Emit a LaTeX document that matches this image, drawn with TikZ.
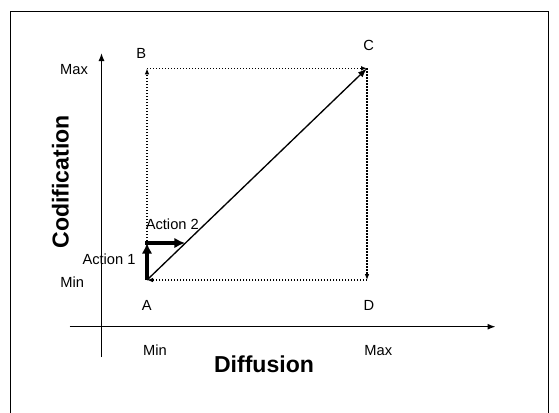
\documentclass[tikz,border=0pt]{standalone}
\usepackage{fontspec}
\setmainfont{Liberation Sans}
\usetikzlibrary{arrows.meta}
\begin{document}
\begin{tikzpicture}[x=0.75pt,y=-0.75pt,
  lbl/.style={font=\fontsize{11}{13}\selectfont, inner sep=0pt},
  big/.style={font=\fontsize{17.3}{20}\selectfont\bfseries, inner sep=0pt},
  axis/.style={line width=0.9pt,-{Latex[length=6pt,width=4.5pt]}},
  dots/.style={line width=0.9pt, dash pattern=on 1pt off 1.25pt, -{Latex[length=4.5pt,width=3.5pt]}},
  diag/.style={line width=1pt,-{Latex[length=7pt,width=5pt]}},
  act/.style={line width=2.8pt,-{Latex[length=8pt,width=8pt]}}]
\useasboundingbox (0,0) rectangle (559,412);
\draw[line width=0.9pt] (10.5,414) -- (10.5,11.7) -- (548.5,11.7) -- (548.5,414);
% points
\coordinate (A) at (147,280);
\coordinate (B) at (147,68.3);
\coordinate (C) at (367,68.3);
\coordinate (D) at (367,280);
\coordinate (A1) at (147,243);
\coordinate (A2) at (185,243);
\coordinate (yb) at (101.5,357);
\coordinate (yt) at (101.5,53);
\coordinate (xl) at (69.5,326.7);
\coordinate (xr) at (495.5,326.7);
% axes
\draw[axis] (yb) -- (yt);
\draw[axis] (xl) -- (xr);
% dotted square
\draw[dots] (A) -- (B);
\draw[dots] (B) -- (C);
\draw[dots] (C) -- (D);
\draw[dots] (D) -- (A);
% diagonal
\draw[diag] (A) -- (C);
% actions
\draw[act] (A) -- (A1);
\draw[act] ([xshift=-1.4pt]A1) -- (A2);
% labels
\node[lbl] (lB) at (141.3,53.7) {B};
\node[lbl] (lC) at (368.7,45.7) {C};
\node[lbl] (lA) at (146.7,305.5) {A};
\node[lbl] (lD) at (369,305.7) {D};
\node[lbl] (ymax) at (74,70) {Max};
\node[lbl] (ymin) at (72.3,281.7) {Min};
\node[lbl] (xmin) at (155,350) {Min};
\node[lbl] (xmax) at (378.3,350.3) {Max};
\node[lbl] (act1) at (109,259.5) {Action 1};
\node[lbl] (act2) at (172.3,224) {Action 2};
\node[big] (diff) at (264,363.8) {Diffusion};
\node[big, rotate=90] (cod) at (60.5,182) {Codification};
\end{tikzpicture}
\end{document}
